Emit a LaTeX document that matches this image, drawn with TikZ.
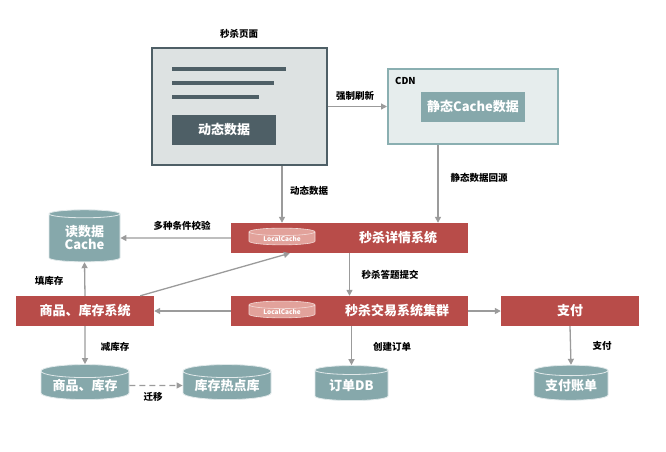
\documentclass[tikz,border=0pt]{standalone}
\usepackage{fontspec}
\setmainfont{Noto Sans CJK SC}
\usetikzlibrary{shapes.geometric,arrows.meta}
\definecolor{redbox}{HTML}{B84C49}
\definecolor{tealc}{HTML}{86A8AB}
\definecolor{pagefill}{HTML}{DDE2E2}
\definecolor{pageline}{HTML}{4E5F66}
\definecolor{cdnfill}{HTML}{E6EDED}
\definecolor{cdnline}{HTML}{8AAFB1}
\definecolor{arrowc}{HTML}{9B9B9B}
\definecolor{lcfill}{HTML}{E2A29B}
\tikzset{
  rbox/.style={fill=redbox, draw=none, minimum height=30pt, inner sep=0pt},
  rtext/.style={text=white, font=\bfseries\fontsize{13}{15}\selectfont, inner sep=0pt},
  db/.style={cylinder, shape border rotate=90, aspect=0.2, fill=tealc, draw=white!75!tealc,
    line width=0.8pt, text=white, font=\bfseries\fontsize{13}{15}\selectfont, inner sep=0pt,
    align=center},
  lcache/.style={cylinder, shape border rotate=90, aspect=0.2, fill=lcfill, draw=white!60!lcfill,
    line width=0.6pt, text=white, font=\bfseries\fontsize{6.5}{8}\selectfont, inner sep=0pt,
    minimum width=66pt, minimum height=13pt},
  lbl/.style={font=\bfseries\fontsize{9.5}{11}\selectfont, text=black, inner sep=0pt},
  arr/.style={draw=arrowc, line width=1.3pt, -{Triangle[length=6pt,width=6pt]}},
}
\begin{document}
\begin{tikzpicture}[x=1pt,y=-1pt]
\useasboundingbox (0,0) rectangle (666,451);
% page
\node[draw=pageline, line width=2pt, fill=pagefill, minimum width=175pt, minimum height=117pt, inner sep=0pt] (page) at (239.5,106.5) {};
\draw[pageline, line width=4pt] (172,69) -- (286,69);
\draw[pageline, line width=4pt] (172,83) -- (274,83);
\draw[pageline, line width=4pt] (172,97) -- (259,97);
\node[fill=pageline, minimum width=104pt, minimum height=30pt, inner sep=0pt, text=white, font=\bfseries\fontsize{13}{15}\selectfont] (dyn) at (224,130) {动态数据};
\node[lbl] (pagelbl) at (239,34) {秒杀页面};
% CDN
\node[draw=cdnline, line width=2pt, fill=cdnfill, minimum width=170pt, minimum height=75pt, inner sep=0pt] (cdn) at (473,106.5) {};
\node[lbl, anchor=west] (cdnlbl) at (395,81) {CDN};
\node[fill=tealc, minimum width=104pt, minimum height=30pt, inner sep=0pt, text=white, font=\bfseries\fontsize{13}{15}\selectfont] (static) at (473,107) {静态Cache数据};
% detail system
\node[rbox, minimum width=237pt] (detail) at (349.5,238) {};
\node[lcache] (lc1) at (282,238.5) {LocalCache};
\node[rtext] (detailtxt) at (398,238) {秒杀详情系统};
% trade system
\node[rbox, minimum width=237pt] (trade) at (349.5,311) {};
\node[lcache] (lc2) at (282,311.5) {LocalCache};
\node[rtext] (tradetxt) at (397,311) {秒杀交易系统集群};
% goods system
\node[rbox, minimum width=138pt, rtext] (goods) at (85,311) {商品、库存系统};
% pay
\node[rbox, minimum width=138pt, rtext] (pay) at (570,311) {支付};
% databases
\node[db, minimum width=71pt, minimum height=52pt] (rcache) at (84.5,238) {读数据\\[-2pt]Cache};
\node[db, minimum width=88pt, minimum height=35pt] (gdb) at (85,385.5) {商品、库存};
\node[db, minimum width=88pt, minimum height=35pt] (hot) at (227,385.5) {库存热点库};
\node[db, minimum width=73pt, minimum height=35pt] (order) at (351.5,385.5) {订单DB};
\node[db, minimum width=74pt, minimum height=35pt] (paydb) at (571,385.5) {支付账单};
% connectors
\draw[arr] (page.east) -- (cdn.west);
\node[lbl] (l1) at (355,96) {强制刷新};
\draw[arr] (page.south -| 282,0) -- (detail.north -| 282,0);
\node[lbl] (l2) at (309,191) {动态数据};
\draw[arr] (cdn.south -| 438,0) -- (detail.north -| 438,0);
\node[lbl] (l3) at (479,178) {静态数据回源};
\draw[arr] (detail.west) -- (rcache.east);
\node[lbl] (l4) at (182,226) {多种条件校验};
\draw[arr] (goods.north) -- (rcache.south);
\node[lbl] (l5) at (49,281) {填库存};
\draw[arr] ([xshift=-14pt]goods.north east) -- ([xshift=59pt]detail.south west);
\draw[arr] (detail.south) -- (trade.north);
\node[lbl] (l6) at (390,275) {秒杀答题提交};
\draw[arr] (trade.west) -- (goods.east);
\draw[arr] (trade.east) -- (pay.west);
\draw[arr] (goods.south) -- (gdb.north);
\node[lbl] (l7) at (115,347) {减库存};
\draw[arr, dashed, dash pattern=on 6pt off 4pt] (gdb.east) -- (hot.west);
\node[lbl] (l8) at (153,397) {迁移};
\draw[arr] (trade.south -| order.north) -- (order.north);
\node[lbl] (l9) at (392,347) {创建订单};
\draw[arr] (pay.south) -- (paydb.north);
\node[lbl] (l10) at (602,346) {支付};
\end{tikzpicture}
\end{document}
